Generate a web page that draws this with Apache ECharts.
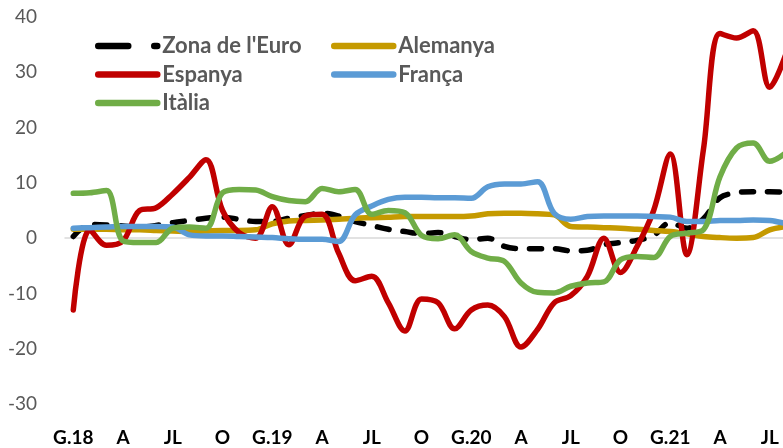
<!DOCTYPE html>
<html><head><meta charset="utf-8">
<script src="https://cdn.jsdelivr.net/npm/echarts@6/dist/echarts.min.js"></script>
<style>html,body{margin:0;padding:0;background:#fff}#c{width:783px;height:448px}</style>
</head><body><div id="c"></div>
<script>
// Months: Jan 2018 .. Aug 2021 (index 0..43)
const tickLabels = ['G.18','A','JL','O','G.19','A','JL','O','G.20','A','JL','O','G.21','A','JL'];
const tickPositions = [0,3,6,9,12,15,18,21,24,27,30,33,36,39,42];

const zonaEuro = [0.3,2.5,2.4,2.2,2.0,2.3,2.8,3.2,3.6,3.8,3.4,3.0,3.0,3.6,4.1,4.5,4.0,3.0,2.3,1.6,1.2,0.8,1.0,0.3,-0.3,0.0,-1.5,-1.9,-1.9,-1.9,-2.3,-2.2,-1.2,-0.8,-0.4,0.5,2.8,1.8,3.5,7.3,8.2,8.4,8.4,8.3];
const alemanya = [1.6,1.6,1.6,1.5,1.5,1.4,1.3,1.2,1.3,1.4,1.4,1.5,2.6,3.1,3.2,3.3,3.4,3.6,3.7,3.8,3.9,3.9,3.9,3.9,4.0,4.4,4.5,4.5,4.4,4.2,2.1,2.0,1.9,1.8,1.6,1.4,1.2,0.8,0.3,0.1,0.0,0.1,1.5,2.1];
const espanya = [-13.0,1.5,-1.3,-0.5,5.0,5.5,8.0,11.0,14.2,5.0,1.0,0.0,5.7,-1.2,4.0,4.3,-2.7,-7.7,-6.9,-11.7,-16.8,-11.0,-11.7,-16.4,-13.0,-12.1,-14.2,-19.7,-16.5,-11.7,-10.4,-6.9,0.0,-6.2,-1.5,5.0,15.2,-3.0,16.0,37.0,36.2,37.5,27.3,33.5];
const franca = [1.8,1.9,2.0,2.1,2.1,2.1,2.0,0.6,0.4,0.4,0.3,0.2,0.1,-0.1,-0.2,-0.2,-0.6,4.2,5.8,7.0,7.4,7.4,7.3,7.3,7.2,9.3,9.8,9.8,10.2,4.5,3.4,3.9,4.0,4.0,4.0,3.9,3.8,3.0,3.0,3.2,3.2,3.3,3.2,2.6];
const italia = [8.1,8.2,8.6,-0.5,-0.8,-0.8,1.8,2.0,1.8,8.2,8.8,8.7,7.5,6.8,6.6,9.0,8.4,8.8,4.3,5.0,4.6,0.5,-0.1,0.6,-2.4,-3.6,-4.2,-8.1,-9.8,-9.9,-8.7,-8.1,-7.9,-3.9,-3.3,-3.5,0.3,0.9,1.5,11.1,16.3,17.2,13.9,15.5];

const FONT = 'Lato';
const DASH = [12, 14];
const pairs = arr => arr.map((v, i) => [i, v]);

function line(name, data, color, dashed) {
  return {
    name, type: 'line', data: pairs(data), smooth: 0.35, symbol: 'none', clip: true,
    lineStyle: { color, width: 5.5, type: dashed ? DASH : 'solid', cap: 'round', join: 'round' },
    itemStyle: { color }
  };
}
function legendItem(name, dashed) {
  return { name, itemStyle: { opacity: 0 },
    lineStyle: { width: 6.5, cap: 'round', type: dashed ? [30, 26] : 'solid' } };
}

const chart = echarts.init(document.getElementById('c'), null, { renderer: 'canvas' });
const legendCommon = {
  orient: 'vertical', itemWidth: 59, itemHeight: 22, itemGap: 6.5, padding: 0,
  textStyle: { fontFamily: FONT, fontSize: 22, fontWeight: 'bold', color: '#595959' },
  lineStyle: { width: 6.5, cap: 'round' },
  itemStyle: { opacity: 0 },
  selectedMode: false
};
chart.setOption({
  animation: false,
  backgroundColor: '#ffffff',
  grid: { left: 65, right: 0, top: 17, bottom: 44 },
  legend: [
    Object.assign({ left: 95, top: 35, data: [legendItem("Zona de l'Euro", true), legendItem('Espanya'), legendItem('Itàlia')] }, legendCommon),
    Object.assign({ left: 331, top: 35, data: [legendItem('Alemanya'), legendItem('França')] }, legendCommon)
  ],
  xAxis: [
    { type: 'value', min: -0.5, max: 42.8, position: 'bottom',
      axisLine: { show: true, onZero: true, lineStyle: { color: '#d9d9d9', width: 1.5 } },
      axisTick: { show: false }, axisLabel: { show: false }, splitLine: { show: false } },
    { type: 'value', min: -0.5, max: 42.8, position: 'bottom',
      axisLine: { show: false, onZero: false }, axisTick: { show: false }, splitLine: { show: false },
      axisLabel: { show: true, customValues: tickPositions, margin: 24,
        fontFamily: FONT, fontSize: 19, fontWeight: 'bold', color: '#000',
        formatter: v => tickLabels[tickPositions.indexOf(Math.round(v))] } }
  ],
  yAxis: {
    type: 'value', min: -30, max: 40, interval: 10,
    axisLine: { show: false }, axisTick: { show: false }, splitLine: { show: false },
    axisLabel: { margin: 28, fontFamily: FONT, fontSize: 19, color: '#595959' }
  },
  series: [
    line("Zona de l'Euro", zonaEuro, '#000000', true),
    line('Alemanya', alemanya, '#C59A00', false),
    line('Espanya', espanya, '#C00000', false),
    line('França', franca, '#5B9BD5', false),
    line('Itàlia', italia, '#70AD47', false)
  ]
});
</script></body></html>
